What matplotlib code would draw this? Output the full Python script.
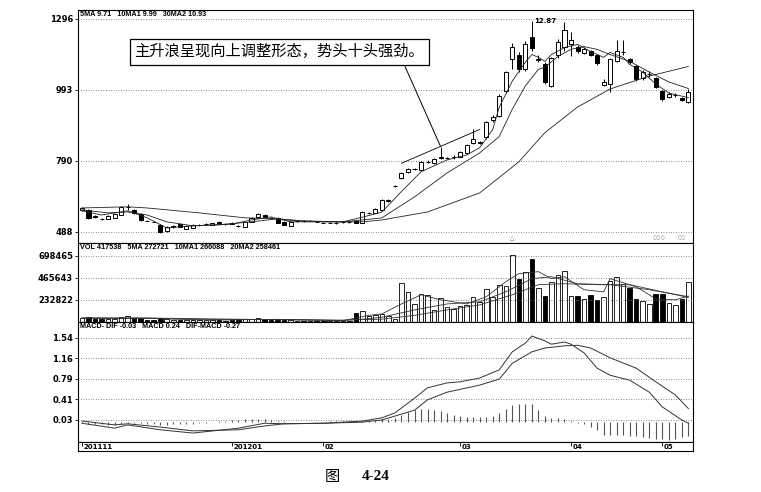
import numpy as np
import matplotlib.pyplot as plt

plt.rcParams['font.family'] = ['DejaVu Sans', 'Noto Sans CJK SC']

# daily K-line, 2011-11 .. 2012-05
opens = [5.82, 5.82, 5.56, 5.44, 5.44, 5.48, 5.60, 5.94, 5.82, 5.65,
         5.36, 5.32, 5.18, 4.90, 5.08, 5.22, 5.02, 5.05, 5.17, 5.21,
         5.18, 5.31, 5.22, 5.27, 5.15, 5.10, 5.31, 5.52, 5.61, 5.49,
         5.48, 5.31, 5.14, 5.34, 5.35, 5.35, 5.32, 5.28, 5.27, 5.27,
         5.30, 5.31, 5.35, 5.27, 5.69, 5.69, 5.82, 6.18, 6.84, 7.18,
         7.44, 7.55, 7.52, 7.86, 7.81, 7.99, 7.98, 8.01, 8.02, 8.13,
         8.42, 8.42, 8.57, 9.06, 9.18, 9.90, 11.23, 11.44, 10.81, 12.20,
         11.22, 11.02, 10.10, 11.44, 11.74, 11.87, 11.78, 11.49, 11.57, 11.40,
         10.14, 10.18, 11.15, 11.53, 11.23, 10.94, 10.43, 10.60, 10.43, 9.90,
         9.73, 9.78, 9.70, 9.58]
closes = [5.90, 5.48, 5.52, 5.42, 5.56, 5.65, 5.95, 5.95, 5.69, 5.39,
          5.35, 5.31, 4.88, 5.10, 5.12, 5.10, 5.14, 5.18, 5.18, 5.22,
          5.26, 5.22, 5.21, 5.22, 5.14, 5.31, 5.48, 5.65, 5.52, 5.48,
          5.27, 5.18, 5.31, 5.35, 5.34, 5.36, 5.31, 5.27, 5.28, 5.27,
          5.31, 5.30, 5.27, 5.73, 5.70, 5.86, 6.24, 6.22, 6.85, 7.39,
          7.56, 7.56, 7.86, 7.87, 7.96, 8.02, 7.99, 8.02, 8.16, 8.36,
          8.54, 8.43, 9.00, 9.15, 9.76, 10.69, 11.74, 10.81, 11.91, 11.70,
          11.25, 10.27, 11.28, 11.99, 12.50, 12.08, 11.57, 11.66, 11.40, 11.07,
          10.27, 11.23, 11.57, 11.53, 11.11, 10.39, 10.69, 10.61, 10.06, 9.67,
          9.81, 9.79, 9.64, 9.87]
highs = [5.95, 5.86, 5.60, 5.46, 5.60, 5.69, 6.00, 6.07, 5.86, 5.69,
         5.38, 5.33, 5.20, 5.12, 5.16, 5.25, 5.16, 5.20, 5.20, 5.24,
         5.28, 5.33, 5.24, 5.29, 5.17, 5.33, 5.50, 5.67, 5.64, 5.50,
         5.50, 5.33, 5.33, 5.37, 5.37, 5.38, 5.34, 5.30, 5.30, 5.33,
         5.33, 5.33, 5.37, 5.75, 5.73, 5.88, 6.30, 6.26, 6.88, 7.43,
         7.62, 7.58, 7.90, 7.93, 7.99, 8.31, 8.02, 8.08, 8.19, 8.39,
         8.80, 8.46, 9.05, 9.20, 9.80, 10.75, 11.95, 11.55, 12.00, 12.87,
         11.40, 11.10, 11.35, 12.10, 12.83, 12.41, 11.85, 11.75, 11.62, 11.45,
         10.40, 11.30, 12.08, 12.08, 11.28, 11.00, 10.80, 10.75, 10.48, 9.93,
         9.87, 9.85, 9.73, 9.95]
lows = [5.78, 5.44, 5.48, 5.40, 5.42, 5.46, 5.58, 5.82, 5.65, 5.35,
        5.33, 5.29, 4.84, 4.86, 5.05, 5.08, 5.00, 5.03, 5.15, 5.19,
        5.16, 5.20, 5.19, 5.20, 5.10, 5.08, 5.29, 5.50, 5.50, 5.46,
        5.25, 5.16, 5.12, 5.32, 5.32, 5.33, 5.29, 5.25, 5.25, 5.20,
        5.28, 5.28, 5.25, 5.25, 5.66, 5.67, 5.80, 6.15, 6.80, 7.15,
        7.40, 7.52, 7.50, 7.80, 7.79, 7.96, 7.96, 7.96, 8.00, 8.10,
        8.38, 8.39, 8.54, 9.02, 9.15, 9.85, 10.81, 10.70, 10.75, 11.60,
        11.10, 10.20, 10.05, 11.30, 11.60, 11.36, 11.50, 11.45, 11.36, 11.00,
        10.10, 9.87, 11.10, 11.40, 11.05, 10.30, 10.35, 10.50, 10.00, 9.62,
        9.70, 9.72, 9.60, 9.55]

# moving averages (bar index, price)
ma5_idx = [0, 3, 7, 10, 13, 17, 23, 26, 29, 32, 36, 40, 42, 45, 46, 49, 52, 56, 59, 61,
           63, 64, 66, 68, 69, 70, 71, 72, 74, 76, 78, 80, 81, 83, 84, 86, 88, 90, 93]
ma5_val = [5.78, 5.60, 5.78, 5.48, 5.05, 5.14, 5.22, 5.39, 5.52, 5.31, 5.31, 5.31, 5.44, 5.65,
           5.73, 6.60, 7.44, 7.93, 8.07, 8.28, 8.80, 9.44, 10.31, 11.11, 11.44, 11.32, 11.15,
           11.44, 11.74, 11.87, 11.57, 11.32, 11.53, 11.32, 11.02, 10.69, 10.18, 9.84, 9.71]
ma10_idx = [0, 4, 7, 10, 13, 17, 21, 26, 30, 34, 40, 43, 46, 51, 56, 61, 64, 66, 68, 70,
            71, 73, 75, 77, 79, 81, 84, 87, 90, 93]
ma10_val = [5.82, 5.69, 5.73, 5.60, 5.31, 5.14, 5.18, 5.31, 5.44, 5.35, 5.31, 5.39, 5.48, 6.37,
            7.39, 8.13, 8.60, 9.38, 10.10, 10.81, 10.90, 11.36, 11.66, 11.78, 11.66, 11.44,
            11.15, 10.69, 10.27, 9.99]
ma30_idx = [0, 7, 10, 18, 25, 29, 33, 38, 43, 46, 53, 61, 67, 71, 76, 81, 87, 93]
ma30_val = [5.90, 5.95, 5.90, 5.69, 5.48, 5.44, 5.35, 5.31, 5.31, 5.39, 5.73, 6.54, 7.86,
            8.71, 9.44, 9.97, 10.52, 10.93]

vols = [45000, 55000, 35000, 30000, 28000, 32000, 48000, 60000, 42000, 38000,
        25000, 22000, 40000, 35000, 20000, 22000, 25000, 24000, 18000, 16000,
        20000, 18000, 15000, 17000, 20000, 28000, 35000, 38000, 30000, 22000,
        26000, 24000, 20000, 14000, 12000, 13000, 12000, 11000, 12000, 14000,
        13000, 15000, 95000, 115000, 60000, 75000, 85000, 63000, 32000, 413000,
        317000, 190000, 296000, 286000, 127000, 254000, 159000, 138000, 169000, 180000,
        265000, 212000, 349000, 265000, 392000, 381000, 705000, 455000, 529000, 667000,
        360000, 275000, 423000, 497000, 540000, 275000, 275000, 243000, 286000, 233000,
        265000, 434000, 476000, 402000, 360000, 243000, 222000, 190000, 296000, 296000,
        201000, 180000, 243000, 417538]
vma5_idx = [0, 10, 20, 30, 40, 44, 46, 49, 52, 55, 59, 62, 65, 67, 70, 72, 74, 77, 80, 81,
            85, 88, 91, 93]
vma5_val = [40000, 38000, 20000, 28000, 14000, 70000, 85000, 190000, 286000, 233000,
            190000, 265000, 423000, 508000, 529000, 455000, 476000, 339000, 317000, 455000,
            370000, 243000, 233000, 272721]
vma10_idx = [0, 10, 20, 30, 40, 44, 46, 51, 56, 61, 65, 69, 72, 76, 81, 87, 93]
vma10_val = [42000, 40000, 28000, 25000, 16000, 35000, 50000, 127000, 190000, 212000,
             317000, 455000, 476000, 402000, 392000, 339000, 266088]
vma20_idx = [0, 10, 20, 30, 40, 46, 51, 56, 61, 66, 70, 74, 79, 84, 89, 93]
vma20_val = [40000, 42000, 32000, 25000, 20000, 30000, 70000, 127000, 180000, 286000,
             392000, 402000, 392000, 392000, 317000, 258461]

dif_idx = [0, 5, 7, 12, 17, 24, 28, 31, 37, 43, 46, 48, 51, 53, 56, 58, 61, 64, 66, 68,
           69, 71, 72, 74, 75, 77, 79, 81, 84, 87, 89, 92, 93]
dif_val = [-0.03, -0.12, -0.06, -0.15, -0.21, -0.12, -0.03, -0.04, -0.03, 0.01, 0.07, 0.16,
           0.43, 0.62, 0.71, 0.73, 0.80, 0.95, 1.28, 1.44, 1.57, 1.48, 1.42, 1.46, 1.42,
           1.26, 0.98, 0.85, 0.76, 0.54, 0.27, 0.03, -0.03]
dea_idx = [0, 5, 7, 12, 17, 24, 28, 31, 37, 43, 46, 51, 53, 56, 61, 64, 66, 69, 71, 74,
           76, 78, 81, 85, 88, 91, 93]
dea_val = [0.01, -0.06, -0.04, -0.10, -0.17, -0.15, -0.08, -0.04, -0.03, -0.01, 0.03, 0.21,
           0.40, 0.54, 0.67, 0.78, 1.07, 1.28, 1.35, 1.39, 1.40, 1.35, 1.17, 0.98, 0.73,
           0.49, 0.24]
macd_hist = [-0.03, -0.04, -0.05, -0.05, -0.06, -0.06, -0.04, -0.02, -0.02, -0.03,
             -0.04, -0.05, -0.06, -0.06, -0.05, -0.05, -0.04, -0.04, -0.03, -0.02,
             -0.01, 0.01, 0.02, 0.03, 0.03, 0.04, 0.05, 0.05, 0.04, 0.03,
             0.02, 0.01, 0.00, -0.01, -0.01, 0.00, 0.00, 0.00, 0.01, 0.01,
             0.01, 0.01, 0.01, 0.02, 0.03, 0.03, 0.04, 0.05, 0.07, 0.12,
             0.17, 0.22, 0.23, 0.23, 0.21, 0.19, 0.16, 0.13, 0.11, 0.09,
             0.08, 0.08, 0.09, 0.11, 0.15, 0.23, 0.31, 0.33, 0.33, 0.32,
             0.22, 0.10, 0.06, 0.06, 0.05, 0.02, -0.02, -0.05, -0.09, -0.15,
             -0.24, -0.25, -0.25, -0.25, -0.26, -0.27, -0.28, -0.30, -0.31, -0.32,
             -0.33, -0.31, -0.29, -0.27]

price_ticks = [4.88, 7.90, 9.93, 12.96]
price_labels = ['488', '790', '993', '1296']
vol_ticks = [232822, 465643, 698465]
macd_ticks = [0.03, 0.41, 0.79, 1.16, 1.54]
date_ticks = [0, 23, 37, 58, 75, 89]
date_labels = ['201111', '201201', '02', '03', '04', '05']

trend_idx = [49, 61]
trend_price = [7.80, 8.80]
note = '主升浪呈现向上调整形态，势头十头强劲。'

n = len(closes)
idx = np.arange(n)
o = np.array(opens)
c = np.array(closes)
up = c >= o
fill = np.where(up, 'white', 'black')

W, H = 761, 492
def box(x0, y0, x1, y1):
    return [x0 / W, 1 - y1 / H, (x1 - x0) / W, (y1 - y0) / H]

fig = plt.figure(figsize=(W / 100, H / 100), dpi=100)
ax1 = fig.add_axes(box(78, 10, 693, 243))
ax2 = fig.add_axes(box(78, 243, 693, 322))
ax3 = fig.add_axes(box(78, 322, 693, 442))
ax4 = fig.add_axes(box(78, 442, 693, 451))

# the book's price axis is not linear: equal spacing between the four labels
knots_p = [1.86, 4.88, 7.90, 9.93, 12.96, 15.99]
knots_u = [-1, 0, 1, 2, 3, 4]
def fwd(p):
    return np.interp(p, knots_p, knots_u)
def inv(u):
    return np.interp(u, knots_u, knots_p)
ax1.set_yscale('function', functions=(fwd, inv))

# candles
ax1.vlines(idx, lows, highs, color='black', lw=0.7, zorder=2)
ax1.bar(idx, c - o, bottom=o, width=0.62, color=fill, edgecolor='black', lw=0.7, zorder=3)
for xi, yi in [(ma5_idx, ma5_val), (ma10_idx, ma10_val), (ma30_idx, ma30_val)]:
    ax1.plot(xi, yi, color='#222222', lw=0.6, zorder=4)
ax1.plot(trend_idx, trend_price, color='black', lw=0.6, zorder=4)

ihi = int(np.argmax(highs))
ax1.text(ihi + 0.4, highs[ihi], '12.87', fontsize=5, fontweight='bold', va='center', ha='left')

ax1.text(0.327, 0.82, note, transform=ax1.transAxes, ha='center', va='center', fontsize=11,
         family=['Noto Sans CJK SC'],
         bbox=dict(boxstyle='square,pad=0.3', fc='white', ec='black', lw=0.9), zorder=6)
ax1.annotate('', xy=(55, highs[55]), xycoords='data', xytext=(0.530, 0.768),
             textcoords='axes fraction',
             arrowprops=dict(arrowstyle='-', color='black', lw=0.7, shrinkA=0, shrinkB=0))
ax1.text(66, 0.021, '△', transform=ax1.get_xaxis_transform(), fontsize=4, color='#777777',
         ha='center', va='center')
ax1.text(88.5, 0.021, '○○○', transform=ax1.get_xaxis_transform(), fontsize=3.5, color='#888888',
         ha='center', va='center')
ax1.text(92, 0.021, '○○', transform=ax1.get_xaxis_transform(), fontsize=3.5, color='#888888',
         ha='center', va='center')

ax1.set_ylim(4.41, 13.34)
ax1.set_yticks(price_ticks)
ax1.set_yticklabels(price_labels)
ax1.yaxis.set_minor_locator(plt.NullLocator())

# volume
ax2.bar(idx, vols, width=0.7, color=fill, edgecolor='black', lw=0.6)
for xi, yi in [(vma5_idx, vma5_val), (vma10_idx, vma10_val), (vma20_idx, vma20_val)]:
    ax2.plot(xi, yi, color='#333333', lw=0.6)
ax2.set_ylim(0, 830000)
ax2.set_yticks(vol_ticks)
ax2.set_yticklabels([str(v) for v in vol_ticks])

# MACD
ax3.vlines(idx, 0, macd_hist, color='#555555', lw=0.8)
ax3.plot(dif_idx, dif_val, color='#333333', lw=0.7)
ax3.plot(dea_idx, dea_val, color='#333333', lw=0.7)
ax3.set_ylim(-0.374, 1.827)
ax3.set_yticks(macd_ticks)
ax3.set_yticklabels(['%.2f' % v for v in macd_ticks])

for ax in (ax1, ax2, ax3):
    ax.set_xlim(-0.61, 93.71)
    ax.set_xticks([])
    ax.grid(axis='y', ls=(0, (1, 2)), color='#666666', lw=0.6)
    ax.tick_params(axis='y', length=2, width=0.6, pad=1.5, labelsize=6)
    for lbl in ax.get_yticklabels():
        lbl.set_fontweight('bold')

# date strip
ax4.set_xlim(-0.61, 93.71)
ax4.set_ylim(0, 1)
ax4.set_yticks([])
ax4.set_xticks(date_ticks)
ax4.tick_params(axis='x', direction='in', top=True, bottom=False, length=3, width=0.6,
                labelbottom=False)
for t, lab in zip(date_ticks, date_labels):
    ax4.text(t + 0.25, 0.45, lab, transform=ax4.get_xaxis_transform(), ha='left', va='center',
             fontsize=5, fontweight='bold')

for ax in (ax1, ax2, ax3, ax4):
    for sp in ax.spines.values():
        sp.set_linewidth(0.8)

# panel headers
headers = [
    (15, '5MA 9.71   10MA1 9.99   30MA2 10.93'),
    (247, 'VOL 417538   5MA 272721   10MA1 266088   20MA2 258461'),
    (327, 'MACD- DIF -0.03   MACD 0.24   DIF-MACD -0.27'),
]
for y, s in headers:
    fig.text(80 / W, 1 - y / H, s, fontsize=5.2, fontweight='bold', va='center', ha='left',
             family=['Liberation Sans', 'DejaVu Sans'])

fig.text(332 / W, 1 - 477 / H, '图', fontsize=11, family=['Noto Sans CJK SC'],
         ha='center', va='center')
fig.text(376 / W, 1 - 477 / H, '4-24', fontsize=11, fontweight='bold',
         family=['Liberation Serif'], ha='center', va='center')

fig.savefig('out.png', dpi=100)
